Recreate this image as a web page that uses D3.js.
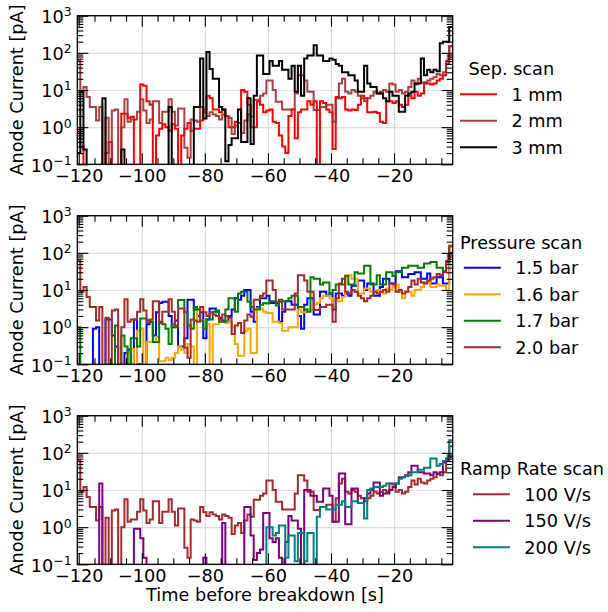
<!DOCTYPE html>
<html><head><meta charset="utf-8">
<script src="https://cdn.jsdelivr.net/npm/d3@7"></script>
<style>
body{margin:0;background:#fff}
text{font-family:"DejaVu Sans",sans-serif;fill:#000}
</style>
</head><body>
<svg id="c" width="608" height="612" xmlns="http://www.w3.org/2000/svg"></svg>
<script>
// ---------- data (1-s bins, first bin starts at -120.5 s) ----------
const binStart = -120.5;
const xMajorTicks = [-120, -100, -80, -60, -40, -20];
const yMajorTicks = [0.1, 1, 10, 100, 1000];
const yTickExponents = ["\u22121", "0", "1", "2", "3"];

const sepLabels = ["1 mm", "2 mm", "3 mm"];
const pressureLabels = ["1.5 bar", "1.6 bar", "1.7 bar", "2.0 bar"];
const rampLabels = ["100 V/s", "150 V/s", "200 V/s"];

// anode current [pA]; 0 = no current (below axis)
const sep1mm = [0.75,0.3,0,0,0,0,0,0,0,0.2,
 0.4,0,0,0,2.3,2.3,1.8,1.9,0,0,
 14,13,5,4,0,0.6,0.9,1.2,1.0,0.8,
 1.2,0.9,0,0.6,0.9,1.3,0.8,0.9,0.9,1.5,
 3,7,6,3,3,2.5,3,2,1,1,
 1.4,1.3,10,9,4,1,1,5,4,2.5,
 2.8,3,1.4,1.3,0.6,0.3,0.2,2,3,0.5,
 2.5,3,3,5,4,5,0,5,4.5,3,
 2.5,0.26,6.5,6,6.5,3,2.8,3,2.9,4,
 7,6,2.5,2.5,2.6,2.4,1.4,1.3,5,5,
 4.5,5,4,3.5,4,7,6,9,7,8,
 16,15,14,15,18,20,25,50,150];

// reference run: 2 mm / 2.0 bar / 100 V/s (same run in all three scans)
const referenceRun = [63,9,12,6.5,3.5,3.5,1.5,3.5,0,1.8,
 0,2.8,3,0,1.0,5.6,1.4,1.6,1.6,2.6,
 5.6,2.8,1.3,1.6,5,5,1.3,2.6,2.6,5.6,
 2.6,1.1,3.2,3.2,0.28,0.15,1.6,1.5,1.4,3.5,
 2.5,2,2.5,2.2,2,1.6,2.2,2,1.8,0.65,
 1.1,1.3,0.7,1.5,2.2,1.9,5.5,5.5,7,8,
 18,18,10,4.8,4.8,3,3,3,3,8,
 25,25,18,9,9,2.9,2.9,3.5,3.5,4,
 4,1.4,6,15,20,9,8,10,9,7,
 6,5,6,7,9,8,9,10,9,15,
 14,9,10,8,9,12,18,14,20,16,
 15,18,20,22,27,25,30,60,150];

const sep3mm = [0.2,9,0.25,0,0,0,0,0,6,0,
 0,0,0,0,0.25,0,0,0,0,0,
 0,0,0,0,0,0,0,0,0,3.5,
 0,0,0,0,0,0,0,3.5,3.5,70,
 1.7,105,37,20,20,3.5,3,0.12,0.33,0.5,
 0.5,3,0.4,0.4,6,0.35,7,85,85,27,
 27,60,45,45,60,35,35,20,45,9,
 45,7,70,85,85,160,85,85,60,60,
 70,65,50,45,30,30,25,25,18,9,
 9,45,15,12,12,8,8,6,5,9,
 7,7,2.6,2.6,7,8,9,15,15,70,
 25,35,30,35,32,180,200,200,500];

const p15bar = [0,0,0,0,0,0.9,1.0,0,0,1.6,
 1.6,0.6,0.3,0,0,0.2,0.25,0,1.6,0.1,
 0,0,1.2,1.4,0.6,2.5,4.5,4.8,4.8,2,
 1.0,1.5,0.3,0.3,0.5,5.5,5.5,3,2,2.5,
 0.5,1.6,3.2,3.2,2.6,1.8,1.5,1.4,2,3,
 6,5.5,7,10,10,2.6,1.4,3.5,6,6,
 7,4.5,4.5,4.5,1.4,2.6,5,5,4,4,
 2,0.9,4,6,6,2.2,2.2,9,9,7,
 8,3,8,8,7,8,7,13,13,18,
 18,10,15,15,7,7,12,20,20,15,
 15,32,32,22,22,27,27,30,30,20,
 20,28,15,15,22,22,15,15,100];

const p16bar = [0,0,0,0,0,0,0,0,0,0,
 0,0,0,0,0,0,0.2,0.26,0,0.8,
 0.9,0,0.4,0.4,0.4,0.55,0.12,0.12,0.15,0.13,
 0.15,0.2,0.3,0.25,0.2,0.35,0.3,0,3,1.5,
 1.5,1.2,0,1.2,1.2,1.4,1.4,1.3,1.4,1.0,
 0.35,0.17,0.17,0.8,0.9,0.2,0.2,3.2,3.2,2.6,
 2.4,2.4,1.4,1.4,1.3,0.8,0.8,1.0,1.0,1.0,
 3,2.5,2.5,3,3,4,4.5,6,7,7,
 6,3.4,5,5,6.5,25,25,20,20,8,
 8,11,11,9,9,10,9,8,11,10,
 12,14,9,6,9,9,7,10,10,12,
 16,16,12,12,14,13,13,10,160];

const p17bar = [1.0,0,0,0,0,0,0,0,0,0,
 0,0,1.1,0,0.6,0.3,0,0.5,0.5,0.3,
 1.7,1.7,1.5,1.4,0.4,0.4,1.4,1.2,0.9,0.35,
 1.2,1.0,5.4,5.4,2.5,1.1,0.9,3.5,3,1.5,
 0.9,1.6,1.6,2.6,2.8,1.4,1.4,3,6,6,
 2.6,8,9,9,4.8,3.5,3,3,4,4.5,
 4.3,5,5,3.8,5.5,5,5,6,7,7,
 3.5,3.5,3,2.6,22,20,20,14,16,16,
 8,10,14,14,14,24,14,14,30,28,
 28,45,45,14,14,25,14,14,30,30,
 24,30,30,40,40,45,45,45,40,40,
 52,52,57,57,40,40,32,55,150];

const ramp150 = [0,0,0,0,0,0,0,15,0,0,
 0,0,0,0,0,0,0,0,0.9,0.9,
 0.5,0.15,0,0,0,0,0,0,0,0,
 0,0,0,0,0,0,0,0,0,0,
 0.15,0,0,0,0,0,1.3,0,0,0,
 0,0,0,3.5,3.5,0.6,0.13,0.2,0.25,2.4,
 2.4,0.5,0.4,0.5,0.15,0,0.4,2.0,1.5,1.5,
 0.9,0,10,10,7,7,4.8,4.8,11,11,
 7,1.4,1.4,28,28,1.2,1.2,11,11,4.5,
 4.5,6,8,10,16,16,7,8,8,10,
 12,15,22,22,25,30,45,45,30,30,
 28,28,25,30,28,30,55,60,80];

const ramp200 = [0,0,0,0,0,0,0,0,0,0,
 0,0,0,0,0,0,0,0,0,0,
 0,0,0,0,0,0,0,0,0,0,
 0,0,0,0,0,0,0,0,0,0,
 0,0,0,0,0,0,0,0,0,0,
 0,0,0,0,0,0,0,0,0,0,
 1.0,1.0,0.6,0.7,1.1,1.1,0.15,0.6,0.6,0.12,
 0.7,0.7,0.12,0.7,0.7,0,1.9,3.5,3.5,3,
 3,3,4,4,5,3.5,3.5,5,5,4.5,
 4.5,1.7,10,11,12,12,12,13,15,15,
 15,15,20,22,24,25,30,30,35,35,
 40,40,70,70,45,50,60,70,220];

// ---------- layout ----------
const N = 119;
[["sep1mm",sep1mm],["referenceRun",referenceRun],["sep3mm",sep3mm],["p15bar",p15bar],
 ["p16bar",p16bar],["p17bar",p17bar],["ramp150",ramp150],["ramp200",ramp200]].forEach(([n,a])=>{
  if (a.length !== N) throw new Error(n + " has " + a.length + " values");
});

const FS = 17.7;
const L = 77.3, R = 452.7, H = 148.6;
const panelTops = [15.7, 215.7, 415.7];
const edges = d3.range(N + 1).map(i => binStart + i);

const panels = [
  {title: "Sep. scan", labels: sepLabels,
   series: [{v: sep1mm, c: "#ff0000", o: 1}, {v: referenceRun, c: "#a52a2a", o: 0.9}, {v: sep3mm, c: "#000000", o: 1}]},
  {title: "Pressure scan", labels: pressureLabels,
   series: [{v: p15bar, c: "#0000ff", o: 1}, {v: p16bar, c: "#ffa500", o: 1}, {v: p17bar, c: "#008000", o: 1}, {v: referenceRun, c: "#a52a2a", o: 1}]},
  {title: "Ramp Rate scan", labels: rampLabels,
   series: [{v: referenceRun, c: "#a52a2a", o: 1}, {v: ramp150, c: "#800080", o: 1}, {v: ramp200, c: "#008080", o: 1}]}
];

const svg = d3.select("#c");
const x = d3.scaleLinear().domain([-120.45, -1.4]).range([L, R]);
const xMinor = d3.range(-115, 0, 5).filter(v => v % 20 !== 0);
const yMinor = [];
[0.1, 1, 10, 100].forEach(d => { for (let k = 2; k <= 9; k++) yMinor.push(d * k); });

panels.forEach((p, pi) => {
  const top = panelTops[pi], bot = top + H;
  const y = d3.scaleLog().domain([0.1, 1000]).range([bot, top]);
  const g = svg.append("g");

  // grid
  const gridStyle = s => { s.select(".domain").remove(); s.selectAll("line").attr("stroke", "#dcdcdc").attr("stroke-width", 1.2); };
  g.append("g").attr("transform", `translate(0,${bot})`)
    .call(d3.axisBottom(x).tickValues(xMajorTicks).tickSize(-H).tickFormat("")).call(gridStyle);
  g.append("g").attr("transform", `translate(${L},0)`)
    .call(d3.axisLeft(y).tickValues(yMajorTicks).tickSize(-(R - L)).tickFormat("")).call(gridStyle);

  // data
  const clipId = "clip" + pi;
  svg.append("clipPath").attr("id", clipId).append("rect")
    .attr("x", L).attr("y", top).attr("width", R - L).attr("height", H);
  const line = d3.line().x(d => x(d[0])).y(d => y(Math.max(d[1], 0.01))).curve(d3.curveStepAfter);
  const dg = g.append("g").attr("clip-path", `url(#${clipId})`);
  p.series.forEach(s => {
    const pts = s.v.map((v, i) => [edges[i], v]);
    pts.push([Math.max(edges[N], -1.4), s.v[N - 1]]);
    dg.append("path").attr("d", line(pts)).attr("fill", "none")
      .attr("stroke", s.c).attr("stroke-opacity", s.o).attr("stroke-width", 2)
      .attr("stroke-linejoin", "miter");
  });

  // ticks (inward, all sides)
  const tickStyle = s => { s.select(".domain").remove(); s.selectAll("line").attr("stroke", "#000").attr("stroke-width", 1.1); };
  g.append("g").attr("transform", `translate(0,${bot})`)
    .call(d3.axisBottom(x).tickValues(xMajorTicks).tickSize(-11).tickPadding(5)
      .tickFormat(d => (d < 0 ? "\u2212" : "") + Math.abs(d)))
    .call(tickStyle)
    .call(s => s.selectAll("text").attr("font-size", FS).attr("font-family", "DejaVu Sans").attr("fill", "#000"));
  g.append("g").attr("transform", `translate(0,${bot})`)
    .call(d3.axisBottom(x).tickValues(xMinor).tickSize(-6).tickFormat("")).call(tickStyle);
  g.append("g").attr("transform", `translate(0,${top})`)
    .call(d3.axisTop(x).tickValues(xMajorTicks).tickSize(-11).tickFormat("")).call(tickStyle);
  g.append("g").attr("transform", `translate(0,${top})`)
    .call(d3.axisTop(x).tickValues(xMinor).tickSize(-6).tickFormat("")).call(tickStyle);
  g.append("g").attr("transform", `translate(${L},0)`)
    .call(d3.axisLeft(y).tickValues(yMajorTicks).tickSize(-11).tickFormat("")).call(tickStyle);
  g.append("g").attr("transform", `translate(${L},0)`)
    .call(d3.axisLeft(y).tickValues(yMinor).tickSize(-6).tickFormat("")).call(tickStyle);
  g.append("g").attr("transform", `translate(${R},0)`)
    .call(d3.axisRight(y).tickValues(yMajorTicks).tickSize(-11).tickFormat("")).call(tickStyle);
  g.append("g").attr("transform", `translate(${R},0)`)
    .call(d3.axisRight(y).tickValues(yMinor).tickSize(-6).tickFormat("")).call(tickStyle);

  // y tick labels 10^n
  yMajorTicks.forEach((v, k) => {
    const t = g.append("text").attr("x", 71.7).attr("y", y(v) + 7.3)
      .attr("text-anchor", "end").attr("font-size", FS);
    t.append("tspan").text("10");
    t.append("tspan").attr("dy", -6.9).attr("font-size", 12.5).text(yTickExponents[k]);
  });

  // spines
  g.append("rect").attr("x", L).attr("y", top).attr("width", R - L).attr("height", H)
    .attr("fill", "none").attr("stroke", "#000").attr("stroke-width", 1.3);

  // y label
  g.append("text").attr("transform", `translate(22.8,${top + H / 2}) rotate(-90)`)
    .attr("text-anchor", "middle").attr("font-size", FS).text("Anode Current [pA]");

  // legend
  const lg = g.append("g");
  const n = p.labels.length;
  const entryY = k => bot - 17 - 26.5 * (n - 1 - k);
  const title = lg.append("text").attr("font-size", FS).text(p.title);
  const tw = title.node().getComputedTextLength();
  const texts = p.labels.map(lab => lg.append("text").attr("font-size", FS).text(lab));
  const maxW = d3.max(texts, t => t.node().getComputedTextLength());
  const hl = 37, pad = 14.4, left = 460;
  const bw = hl + pad + maxW;
  const W = Math.max(tw, bw);
  title.attr("x", left + (W - tw) / 2).attr("y", entryY(0) - 19.3);
  const x0 = left + (W - bw) / 2;
  p.series.forEach((s, k) => {
    const yy = entryY(k);
    lg.append("line").attr("x1", x0).attr("x2", x0 + hl).attr("y1", yy).attr("y2", yy)
      .attr("stroke", s.c).attr("stroke-opacity", s.o).attr("stroke-width", 2);
    texts[k].attr("x", x0 + hl + pad).attr("y", yy + 6.6);
  });
});

svg.append("text").attr("x", (L + R) / 2).attr("y", 601).attr("text-anchor", "middle")
  .attr("font-size", FS).text("Time before breakdown [s]");
</script>
</body></html>
